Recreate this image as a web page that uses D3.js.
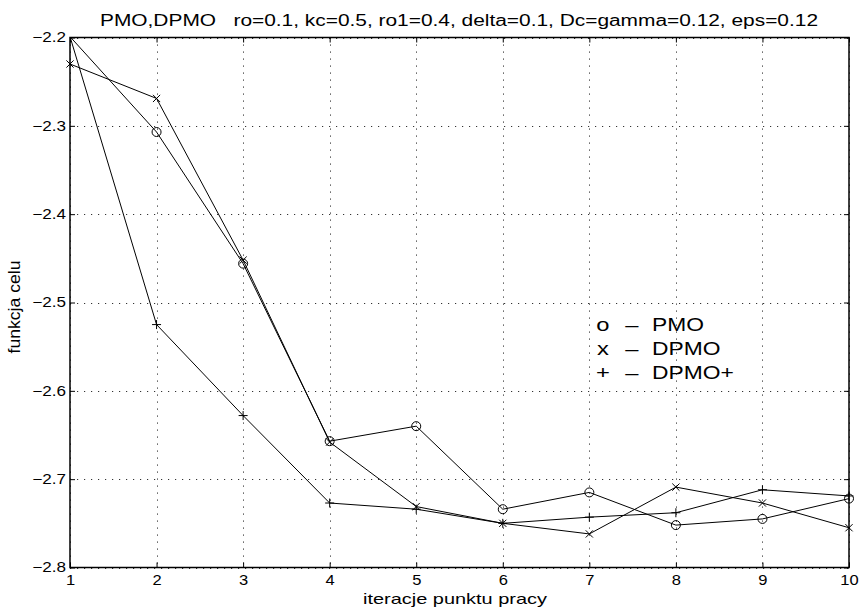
<!DOCTYPE html>
<html>
<head>
<meta charset="utf-8">
<script src="https://cdn.jsdelivr.net/npm/d3@7"></script>
<style>
  body { margin: 0; background: #fff; }
  text { font-family: "Liberation Sans", Arial, Helvetica, sans-serif; fill: #000; }
</style>
</head>
<body>
<svg id="chart" width="860" height="609"></svg>
<script>
// Objective function value per working-point iteration
const iterations = [1, 2, 3, 4, 5, 6, 7, 8, 9, 10];
const pmo      = [-2.199, -2.307, -2.456, -2.657, -2.640, -2.734, -2.715, -2.752, -2.745, -2.722];
const dpmo     = [-2.230, -2.269, -2.452, -2.658, -2.731, -2.750, -2.762, -2.709, -2.727, -2.755];
const dpmoPlus = [-2.199, -2.525, -2.628, -2.727, -2.734, -2.750, -2.743, -2.738, -2.712, -2.719];

const xTicks = [1, 2, 3, 4, 5, 6, 7, 8, 9, 10];
const yTicks = [-2.8, -2.7, -2.6, -2.5, -2.4, -2.3, -2.2];

const titleText = "PMO,DPMO   ro=0.1, kc=0.5, ro1=0.4, delta=0.1, Dc=gamma=0.12, eps=0.12";
const xLabel = "iteracje punktu pracy";
const yLabel = "funkcja celu";
const legendSymbols = ["o", "x", "+"];
const legendNames = ["PMO", "DPMO", "DPMO+"];

const plot = { left: 70, right: 849, top: 37.5, bottom: 567.5 };

const svg = d3.select("#chart");
const x = d3.scaleLinear().domain([1, 10]).range([plot.left, plot.right]);
const y = d3.scaleLinear().domain([-2.8, -2.2]).range([plot.bottom, plot.top]);

// widen text horizontally by a factor
function stretch(sel, k) {
  sel.each(function () {
    const len = this.getComputedTextLength();
    d3.select(this).attr("textLength", len * k).attr("lengthAdjust", "spacingAndGlyphs");
  });
}

svg.append("defs").append("clipPath").attr("id", "plotClip")
  .append("rect")
  .attr("x", plot.left).attr("y", plot.top)
  .attr("width", plot.right - plot.left).attr("height", plot.bottom - plot.top);

// dotted grid
const grid = svg.append("g").attr("stroke", "#333").attr("stroke-width", 1)
  .attr("stroke-dasharray", "1.2,5.8");
grid.selectAll("line.v").data(xTicks).join("line")
  .attr("x1", d => Math.round(x(d)) + 0.5).attr("x2", d => Math.round(x(d)) + 0.5)
  .attr("y1", plot.top).attr("y2", plot.bottom);
grid.selectAll("line.h").data(yTicks).join("line")
  .attr("y1", d => Math.round(y(d)) + 0.5).attr("y2", d => Math.round(y(d)) + 0.5)
  .attr("x1", plot.left).attr("x2", plot.right);

// axes with inward ticks on all four sides
const fmtY = d3.format(".1f");
const axB = svg.append("g").attr("transform", `translate(0,${plot.bottom})`)
  .call(d3.axisBottom(x).tickValues(xTicks).tickSize(-5).tickSizeOuter(0).tickPadding(8).tickFormat(d3.format("d")));
const axL = svg.append("g").attr("transform", `translate(${plot.left},0)`)
  .call(d3.axisLeft(y).tickValues(yTicks).tickSize(-5).tickSizeOuter(0).tickPadding(4).tickFormat(fmtY));
const axT = svg.append("g").attr("transform", `translate(0,${plot.top})`)
  .call(d3.axisTop(x).tickValues(xTicks).tickSize(-5).tickSizeOuter(0).tickFormat(""));
const axR = svg.append("g").attr("transform", `translate(${plot.right},0)`)
  .call(d3.axisRight(y).tickValues(yTicks).tickSize(-5).tickSizeOuter(0).tickFormat(""));

[axB, axL, axT, axR].forEach(a => {
  a.select(".domain").remove();
  a.selectAll(".tick line").attr("stroke", "#000").attr("stroke-width", 1);
  a.selectAll("text").attr("font-size", 14).attr("font-family", null).attr("fill", "#000");
});
stretch(axB.selectAll("text"), 1.18);
stretch(axL.selectAll("text"), 1.22);

// frame
svg.append("rect")
  .attr("x", plot.left).attr("y", plot.top)
  .attr("width", plot.right - plot.left).attr("height", plot.bottom - plot.top)
  .attr("fill", "none").attr("stroke", "#000").attr("stroke-width", 1.5);

// series
const series = [
  { values: pmo, marker: "o" },
  { values: dpmo, marker: "x" },
  { values: dpmoPlus, marker: "+" }
];
const line = d3.line().x((d, i) => x(iterations[i])).y(d => y(d));
const lines = svg.append("g").attr("clip-path", "url(#plotClip)");
const [yMin, yMax] = y.domain();

series.forEach(s => {
  lines.append("path").datum(s.values)
    .attr("d", line).attr("fill", "none").attr("stroke", "#000").attr("stroke-width", 1);

  const pts = s.values.map((v, i) => ({ cx: x(iterations[i]), cy: y(v), v }))
    .filter(p => p.v >= yMin && p.v <= yMax);
  const g = svg.append("g").attr("stroke", "#000").attr("stroke-width", 1).attr("fill", "none");
  if (s.marker === "o") {
    g.selectAll("circle").data(pts).join("circle")
      .attr("cx", p => p.cx).attr("cy", p => p.cy).attr("r", 4.5);
  } else if (s.marker === "x") {
    const r = 3.6;
    g.selectAll("path").data(pts).join("path")
      .attr("d", p => `M${p.cx - r},${p.cy - r}L${p.cx + r},${p.cy + r}M${p.cx - r},${p.cy + r}L${p.cx + r},${p.cy - r}`);
  } else {
    const r = 4.5;
    g.selectAll("path").data(pts).join("path")
      .attr("d", p => `M${p.cx - r},${p.cy}L${p.cx + r},${p.cy}M${p.cx},${p.cy - r}L${p.cx},${p.cy + r}`);
  }
});

// legend written as text lines
const leg = svg.append("g");
legendNames.forEach((name, i) => {
  const by = 331 + i * 24;
  const s = leg.append("text").attr("x", 603).attr("y", by).attr("text-anchor", "middle")
    .attr("font-size", 19).text(legendSymbols[i]);
  stretch(s, 1.25);
  const d = leg.append("text").attr("x", 632).attr("y", by).attr("text-anchor", "middle")
    .attr("font-size", 19).text("\u2013");
  stretch(d, 1.25);
  const t = leg.append("text").attr("x", 652).attr("y", by).attr("font-size", 19).text(name);
  stretch(t, 1.2);
});

// title
svg.append("text").attr("x", 100).attr("y", 26).attr("font-size", 16)
  .style("white-space", "pre")
  .attr("textLength", 718).attr("lengthAdjust", "spacingAndGlyphs")
  .text(titleText);

// axis labels
svg.append("text").attr("x", 455).attr("y", 604).attr("text-anchor", "middle")
  .attr("font-size", 15).attr("textLength", 184).attr("lengthAdjust", "spacingAndGlyphs")
  .text(xLabel);
svg.append("text").attr("transform", "translate(20,307) rotate(-90)")
  .attr("text-anchor", "middle").attr("font-size", 17)
  .attr("textLength", 93).attr("lengthAdjust", "spacingAndGlyphs")
  .text(yLabel);
</script>
</body>
</html>
